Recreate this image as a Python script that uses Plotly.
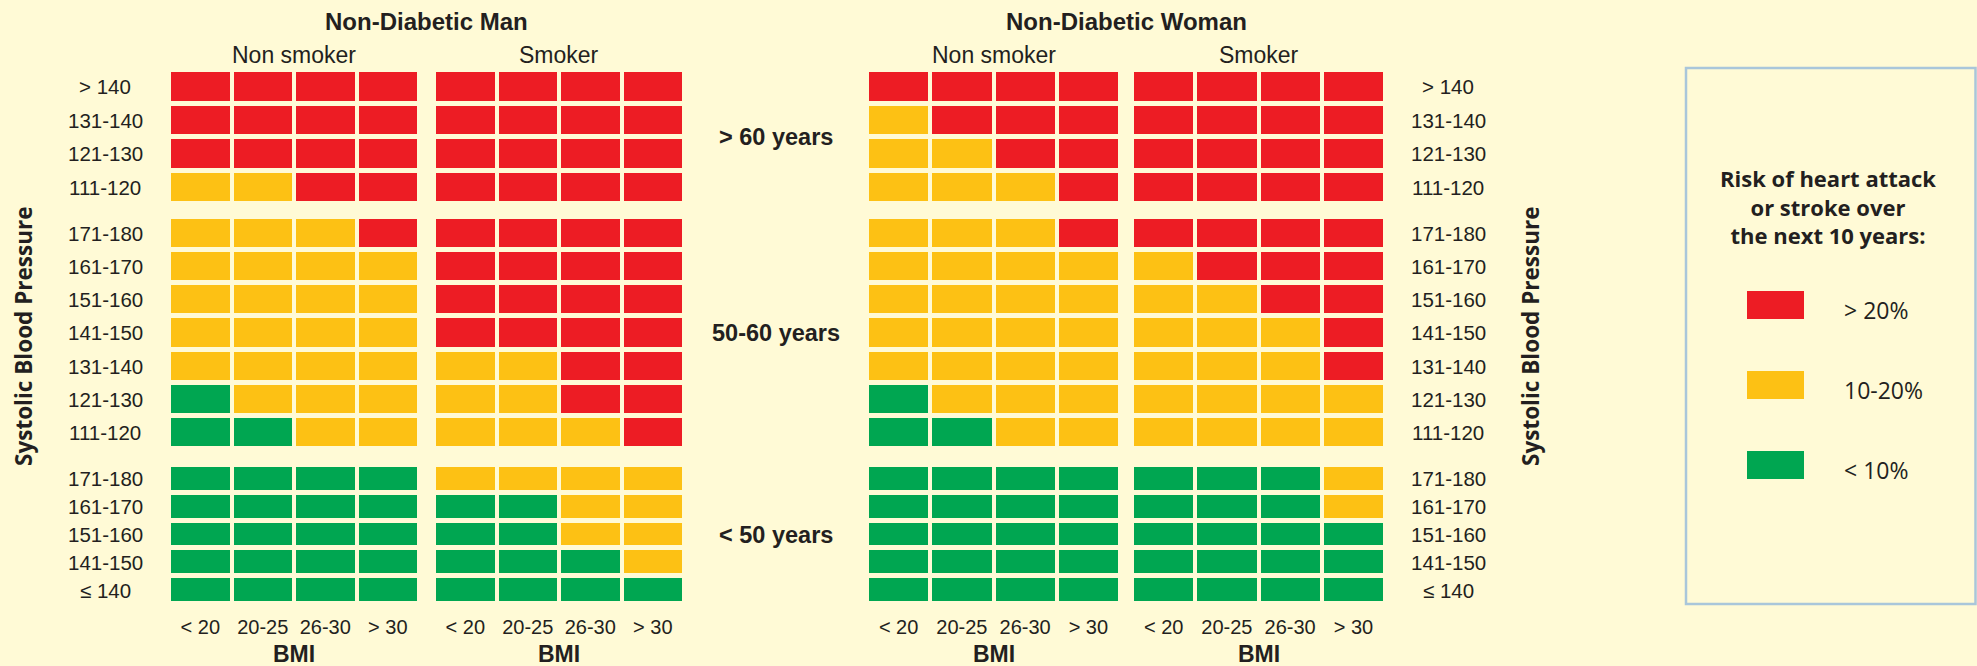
import plotly.graph_objects as go

W, H = 1977, 666

# Category labels
BMI = ["< 20", "20-25", "26-30", "> 30"]
SBP_OVER60 = ["> 140", "131-140", "121-130", "111-120"]
SBP_50_60 = ["171-180", "161-170", "151-160", "141-150", "131-140", "121-130", "111-120"]
SBP_UNDER50 = ["171-180", "161-170", "151-160", "141-150", "≤ 140"]
AGE_BANDS = ["> 60 years", "50-60 years", "< 50 years"]
RISK_LABELS = ["> 20%", "10-20%", "< 10%"]
RISK_CODES = [[2], [1], [0]]

# Risk codes per cell: 0 = < 10%, 1 = 10-20%, 2 = > 20%  (rows top to bottom, columns by BMI)
man_nonsmoker_over60 = [[2, 2, 2, 2], [2, 2, 2, 2], [2, 2, 2, 2], [1, 1, 2, 2]]
man_smoker_over60 = [[2, 2, 2, 2], [2, 2, 2, 2], [2, 2, 2, 2], [2, 2, 2, 2]]
woman_nonsmoker_over60 = [[2, 2, 2, 2], [1, 2, 2, 2], [1, 1, 2, 2], [1, 1, 1, 2]]
woman_smoker_over60 = [[2, 2, 2, 2], [2, 2, 2, 2], [2, 2, 2, 2], [2, 2, 2, 2]]

man_nonsmoker_50_60 = [[1, 1, 1, 2], [1, 1, 1, 1], [1, 1, 1, 1], [1, 1, 1, 1],
                       [1, 1, 1, 1], [0, 1, 1, 1], [0, 0, 1, 1]]
man_smoker_50_60 = [[2, 2, 2, 2], [2, 2, 2, 2], [2, 2, 2, 2], [2, 2, 2, 2],
                    [1, 1, 2, 2], [1, 1, 2, 2], [1, 1, 1, 2]]
woman_nonsmoker_50_60 = [[1, 1, 1, 2], [1, 1, 1, 1], [1, 1, 1, 1], [1, 1, 1, 1],
                         [1, 1, 1, 1], [0, 1, 1, 1], [0, 0, 1, 1]]
woman_smoker_50_60 = [[2, 2, 2, 2], [1, 2, 2, 2], [1, 1, 2, 2], [1, 1, 1, 2],
                      [1, 1, 1, 2], [1, 1, 1, 1], [1, 1, 1, 1]]

man_nonsmoker_under50 = [[0, 0, 0, 0], [0, 0, 0, 0], [0, 0, 0, 0], [0, 0, 0, 0], [0, 0, 0, 0]]
man_smoker_under50 = [[1, 1, 1, 1], [0, 0, 1, 1], [0, 0, 1, 1], [0, 0, 0, 1], [0, 0, 0, 0]]
woman_nonsmoker_under50 = [[0, 0, 0, 0], [0, 0, 0, 0], [0, 0, 0, 0], [0, 0, 0, 0], [0, 0, 0, 0]]
woman_smoker_under50 = [[0, 0, 0, 1], [0, 0, 0, 1], [0, 0, 0, 0], [0, 0, 0, 0], [0, 0, 0, 0]]

GRIDS = [
    [man_nonsmoker_over60, man_smoker_over60, woman_nonsmoker_over60, woman_smoker_over60],
    [man_nonsmoker_50_60, man_smoker_50_60, woman_nonsmoker_50_60, woman_smoker_50_60],
    [man_nonsmoker_under50, man_smoker_under50, woman_nonsmoker_under50, woman_smoker_under50],
]
ROW_LABELS = [SBP_OVER60, SBP_50_60, SBP_UNDER50]

# Styling
BG = "#FFFAD6"
INK = "#231F20"
RED, YELLOW, GREEN = "#ED1C24", "#FDC114", "#00A651"
COLORSCALE = [[0.0, GREEN], [0.5, YELLOW], [1.0, RED]]
LABEL_FONT = "Liberation Sans, Arial, sans-serif"
KEY_FONT = "Open Sans, Liberation Sans, sans-serif"

# Panel placement in pixels
COL_PX = [(169, 419), (434, 684), (867, 1120), (1132, 1385)]
ROW_PX = [(70, 204), (217, 449), (465, 604)]


def fx(p):
    return p / W


def fy(p):
    return 1 - p / H


fig = go.Figure()
layout_axes = {}
annotations = []

k = 0
for r, (top, bot) in enumerate(ROW_PX):
    for c, (x0, x1) in enumerate(COL_PX):
        k += 1
        sfx = "" if k == 1 else str(k)
        fig.add_trace(go.Heatmap(
            x=BMI, y=ROW_LABELS[r], z=GRIDS[r][c],
            colorscale=COLORSCALE, zmin=0, zmax=2, showscale=False,
            xgap=4, ygap=5, hoverinfo="skip",
            xaxis="x" + sfx, yaxis="y" + sfx,
        ))
        layout_axes["xaxis" + sfx] = dict(
            domain=[fx(x0), fx(x1)], anchor="y" + sfx, type="category",
            showgrid=False, zeroline=False, showline=False, ticks="",
            showticklabels=(r == 2), tickangle=0, ticklabelstandoff=9,
            tickfont=dict(family=LABEL_FONT, size=20, color=INK), fixedrange=True,
        )
        layout_axes["yaxis" + sfx] = dict(
            domain=[fy(bot), fy(top)], anchor="x" + sfx, type="category",
            autorange="reversed", showgrid=False, zeroline=False, showline=False,
            ticks="", showticklabels=False, fixedrange=True,
        )
        # Systolic pressure row labels on the outer sides
        if c == 0 or c == 3:
            for lab in ROW_LABELS[r]:
                annotations.append(dict(
                    x=fx(105 if c == 0 else 1448), xref="paper", xanchor="center",
                    y=lab, yref="y" + sfx, yanchor="middle", text=lab, showarrow=False,
                    font=dict(family=LABEL_FONT, size=20.5, color=INK),
                ))
        # Smoking status headings
        if r == 0:
            annotations.append(dict(
                x=0.5, xref="x" + sfx + " domain", xanchor="center",
                y=fy(55), yref="paper", yanchor="middle",
                text="Non smoker" if c % 2 == 0 else "Smoker", showarrow=False,
                font=dict(family=LABEL_FONT, size=23, color=INK),
            ))
        # BMI axis titles
        if r == 2:
            annotations.append(dict(
                x=0.5, xref="x" + sfx + " domain", xanchor="center",
                y=fy(654), yref="paper", yanchor="middle",
                text="<b>BMI</b>", showarrow=False,
                font=dict(family=LABEL_FONT, size=23, color=INK),
            ))
        # Age band labels between the two sexes
        if c == 1:
            annotations.append(dict(
                x=fx(776), xref="paper", xanchor="center",
                y=0.5, yref="y" + sfx + " domain", yanchor="middle",
                text="<b>" + AGE_BANDS[r] + "</b>", showarrow=False,
                font=dict(family=LABEL_FONT, size=23.5, color=INK),
            ))

# Sex headings
for title, (a, b) in [("Non-Diabetic Man", (171, 682)), ("Non-Diabetic Woman", (869, 1383))]:
    annotations.append(dict(
        x=fx((a + b) / 2), xref="paper", xanchor="center",
        y=fy(21), yref="paper", yanchor="middle",
        text="<b>" + title + "</b>", showarrow=False,
        font=dict(family=LABEL_FONT, size=24, color=INK),
    ))

# Vertical axis titles
for xp in (23, 1530):
    annotations.append(dict(
        x=fx(xp), xref="paper", xanchor="center",
        y=fy(337), yref="paper", yanchor="middle", textangle=-90,
        text="<b>Systolic Blood Pressure</b>", showarrow=False,
        font=dict(family=KEY_FONT, size=22.5, color=INK),
    ))

# Legend swatches as a one-column heatmap
fig.add_trace(go.Heatmap(
    x=[0], y=RISK_LABELS, z=RISK_CODES, colorscale=COLORSCALE, zmin=0, zmax=2,
    showscale=False, xgap=0, ygap=52, hoverinfo="skip", xaxis="x13", yaxis="y13",
))
layout_axes["xaxis13"] = dict(domain=[fx(1747), fx(1804)], anchor="y13", visible=False, fixedrange=True)
layout_axes["yaxis13"] = dict(domain=[fy(505), fy(265)], anchor="x13", type="category",
                              autorange="reversed", visible=False, fixedrange=True)
for lab in RISK_LABELS:
    annotations.append(dict(
        x=fx(1842), xref="paper", xanchor="left", y=lab, yref="y13", yanchor="middle",
        yshift=-5, text=lab, showarrow=False,
        font=dict(family=KEY_FONT, size=23, color=INK),
    ))
annotations.append(dict(
    x=fx(1828), xref="paper", xanchor="center", y=fy(206), yref="paper", yanchor="middle",
    text="<b>Risk of heart attack<br>or stroke over<br>the next 10 years:</b>",
    showarrow=False, align="center",
    font=dict(family=KEY_FONT, size=22, color=INK),
))

fig.update_layout(
    width=W, height=H, margin=dict(l=0, r=0, t=0, b=0),
    paper_bgcolor=BG, plot_bgcolor=BG, showlegend=False,
    annotations=annotations,
    shapes=[dict(type="rect", xref="paper", yref="paper",
                 x0=fx(1686), x1=fx(1975.5), y0=fy(604), y1=fy(68),
                 line=dict(color="#A9C6DA", width=2.5), fillcolor="rgba(0,0,0,0)")],
    **layout_axes,
)

fig.write_html("out.html")
